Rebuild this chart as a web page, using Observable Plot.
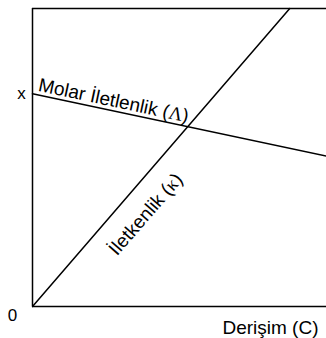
<!DOCTYPE html>
<html>
<head>
<meta charset="utf-8">
<script src="https://cdn.jsdelivr.net/npm/d3@7"></script>
<script src="https://cdn.jsdelivr.net/npm/@observablehq/plot@0.6"></script>
<style>
  html, body { margin: 0; padding: 0; background: #fff; }
  svg { display: block; }
</style>
</head>
<body>
<div id="chart"></div>
<script>
// Conductivity (κ) rises linearly with concentration; molar conductivity (Λ) falls slowly.
const concentration = [0, 0.875];
const conductivity = [0, 1.4];
const molarConcentration = [0, 1];
const molarConductivity = [1, 0.707];

const yTickValues = [1];
const yTickLabels = ["x"];
const originLabel = "0";
const xAxisLabel = "Derişim (C)";
const kappaLabel = "İletkenlik (κ)";
const lambdaLabel = "Molar İletlenlik (Λ)";

const xDomain = [0, 1];
const yDomain = [0, 1.4];

const kappa = concentration.map((c, i) => ({c, v: conductivity[i]}));
const lambda = molarConcentration.map((c, i) => ({c, v: molarConductivity[i]}));

// a point part-way along a straight segment, for placing its label
const along = (pts, t) => ({
  c: pts[0].c + t * (pts[1].c - pts[0].c),
  v: pts[0].v + t * (pts[1].v - pts[0].v)
});

const font = "Liberation Sans, Arial, sans-serif";
const fs = 19;

const chart = Plot.plot({
  width: 326,
  height: 338,
  marginLeft: 32,
  marginRight: 0,
  marginTop: 8,
  marginBottom: 32,
  style: {fontFamily: font, background: "#fff"},
  x: {domain: xDomain, axis: null},
  y: {domain: yDomain, axis: null},
  marks: [
    // frame: left, bottom and top edges
    Plot.ruleX([xDomain[0]], {stroke: "#000", strokeWidth: 1.5}),
    Plot.ruleY([yDomain[0]], {stroke: "#000", strokeWidth: 1.5}),
    Plot.ruleY([yDomain[1]], {stroke: "#000", strokeWidth: 1.5}),
    Plot.line(kappa, {x: "c", y: "v", stroke: "#000", strokeWidth: 1.5}),
    Plot.line(lambda, {x: "c", y: "v", stroke: "#000", strokeWidth: 1.5}),
    // y tick label
    Plot.text(yTickValues, {
      x: xDomain[0], y: d => d, text: (d, i) => yTickLabels[i],
      dx: -11, fontSize: 17, fill: "#000"
    }),
    Plot.text([originLabel], {
      x: xDomain[0], y: yDomain[0], text: d => d,
      dx: -20, dy: 9, fontSize: 17, fill: "#000"
    }),
    Plot.text([xAxisLabel], {
      x: xDomain[1], y: yDomain[0], text: d => d,
      textAnchor: "end", dx: -8, dy: 21, fontSize: fs, fill: "#000"
    }),
    // line labels, rotated to follow their lines
    Plot.text([along(lambda, 0.017)], {
      x: "c", y: "v", text: () => lambdaLabel,
      textAnchor: "start", lineAnchor: "bottom", rotate: 12,
      dy: -4, fontSize: fs, fill: "#000"
    }),
    Plot.text([along(kappa, 0.37)], {
      x: "c", y: "v", text: () => kappaLabel,
      textAnchor: "middle", rotate: -49,
      dx: 18, dy: 18, fontSize: fs, fill: "#000"
    })
  ]
});

// set the Greek symbols in a serif face
d3.select(chart).selectAll("text").each(function () {
  const s = this.textContent;
  const m = s.match(/^(.*\()([\u0370-\u03FF])(\))$/);
  if (!m) return;
  const t = d3.select(this);
  t.text(null);
  t.append("tspan").text(m[1]);
  t.append("tspan").attr("font-family", "Liberation Serif, Times New Roman, serif").text(m[2]);
  t.append("tspan").text(m[3]);
});

document.getElementById("chart").append(chart);
</script>
</body>
</html>
